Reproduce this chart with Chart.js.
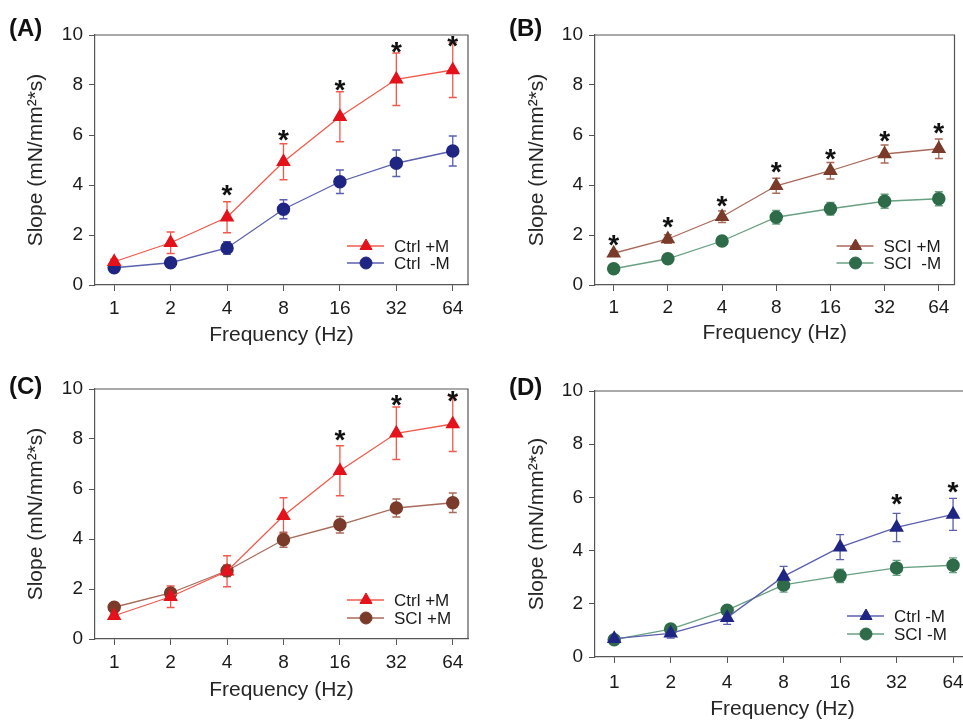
<!DOCTYPE html>
<html><head><meta charset="utf-8">
<script src="https://cdn.jsdelivr.net/npm/chart.js@4.4.1/dist/chart.umd.min.js"></script>
<style>
html,body{margin:0;padding:0;background:#fff;overflow:hidden;width:963px;height:722px;position:relative;}
canvas{position:absolute;}
.lbl{position:absolute;font:bold 24px "Liberation Sans",Arial,sans-serif;line-height:24px;color:#111;}
</style></head><body>
<canvas id="cA" width="480" height="360" style="left:0;top:0"></canvas>
<canvas id="cB" width="483" height="360" style="left:480px;top:0"></canvas>
<canvas id="cC" width="480" height="362" style="left:0;top:360px"></canvas>
<canvas id="cD" width="500" height="362" style="left:480px;top:360px"></canvas>
<div class="lbl" style="left:9px;top:16px">(A)</div>
<div class="lbl" style="left:509px;top:16px">(B)</div>
<div class="lbl" style="left:9px;top:374px">(C)</div>
<div class="lbl" style="left:509px;top:375px">(D)</div>
<script>
// ---- data ----
const freqLabels = ['1','2','4','8','16','32','64'];
const ctrlPlusM     = [0.93, 1.69, 2.71, 4.93, 6.73, 8.23, 8.60];
const ctrlPlusMErr  = [0.10, 0.43, 0.62, 0.72, 1.00, 1.05, 1.10];
const ctrlMinusM    = [0.69, 0.89, 1.48, 3.03, 4.13, 4.87, 5.36];
const ctrlMinusMErr = [0.10, 0.18, 0.25, 0.38, 0.47, 0.53, 0.60];
const sciPlusM      = [1.27, 1.84, 2.73, 3.97, 4.57, 5.24, 5.45];
const sciPlusMErr   = [0.10, 0.17, 0.23, 0.30, 0.33, 0.36, 0.39];
const sciMinusM     = [0.65, 1.05, 1.76, 2.71, 3.05, 3.35, 3.45];
const sciMinusMErr  = [0.05, 0.07, 0.10, 0.27, 0.25, 0.28, 0.28];
const starsA = [null, null, 3.89, 6.07, 8.07, 9.60, 9.83];
const starsB = [1.90, 2.60, 3.44, 4.80, 5.33, 6.04, 6.36];
const starsC = [null, null, null, null, 8.24, 9.64, 9.80];
const starsD = [null, null, null, null, null, 6.03, 6.47];
const yTicks = [0, 2, 4, 6, 8, 10];

// ---- styles ----
const FONT = '"Liberation Sans", Arial, sans-serif';
const AXIS = '#555555';
const TXT = '#1a1a1a';
const RED = {color:'#e3121b', line:'#f05a4c'};
const NAVY = {color:'#1f2583', line:'#5a5fae'};
const BROWN = {color:'#7a3b2a', line:'#a86a5a'};
const GREEN = {color:'#2e6b48', line:'#68a082'};

const extrasPlugin = {
  id: 'panelExtras',
  beforeDatasetsDraw(chart) {
    const ctx = chart.ctx, xs = chart.scales.x, ys = chart.scales.y;
    ctx.save();
    chart.data.datasets.forEach(ds => {
      ctx.strokeStyle = ds.errColor; ctx.lineWidth = 1.3;
      ds.data.forEach((p, i) => {
        const e = ds.errors[i];
        const x = xs.getPixelForValue(p.x);
        const y1 = ys.getPixelForValue(p.y + e), y2 = ys.getPixelForValue(p.y - e);
        ctx.beginPath();
        ctx.moveTo(x, y1); ctx.lineTo(x, y2);
        ctx.moveTo(x - 4, y1); ctx.lineTo(x + 4, y1);
        ctx.moveTo(x - 4, y2); ctx.lineTo(x + 4, y2);
        ctx.stroke();
      });
    });
    ctx.restore();
  },
  afterDatasetsDraw(chart, args, opts) {
    const ctx = chart.ctx, xs = chart.scales.x, ys = chart.scales.y, ca = chart.chartArea;
    ctx.save();
    // top & right frame
    ctx.strokeStyle = AXIS; ctx.lineWidth = 1.2;
    ctx.beginPath();
    ctx.moveTo(ca.left, ca.top); ctx.lineTo(ca.right, ca.top); ctx.lineTo(ca.right, ca.bottom);
    ctx.stroke();
    // stars
    const fs = 28;
    ctx.fillStyle = '#111';
    ctx.font = 'bold ' + fs + 'px ' + FONT;
    ctx.textAlign = 'center'; ctx.textBaseline = 'alphabetic';
    (opts.stars || []).forEach((v, i) => {
      if (v === null) return;
      ctx.fillText('*', xs.getPixelForValue(i), ys.getPixelForValue(v) + 0.575 * fs);
    });
    // legend
    const lg = opts.legend;
    chart.data.datasets.forEach((ds, k) => {
      const x0 = ca.right - lg.dx, y = ca.bottom - lg.rows[k];
      ctx.strokeStyle = ds.borderColor; ctx.lineWidth = 1.3;
      ctx.beginPath(); ctx.moveTo(x0, y); ctx.lineTo(x0 + 37, y); ctx.stroke();
      ctx.fillStyle = ds.pointBackgroundColor; ctx.strokeStyle = ds.pointBorderColor; ctx.lineWidth = 1;
      Chart.helpers.drawPoint(ctx, {pointStyle: ds.pointStyle, radius: ds.pointRadius, rotation: 0, borderWidth: 1}, x0 + 19, y);
      ctx.fillStyle = TXT;
      ctx.font = '17px ' + FONT;
      ctx.textAlign = 'left'; ctx.textBaseline = 'middle';
      ctx.fillText(lg.texts[k], x0 + 47, y + 1);
    });
    ctx.restore();
  }
};

function makeChart(id, cfg) {
  const H = cfg.H, W = cfg.W;
  return new Chart(document.getElementById(id), {
    type: 'line',
    data: {
      datasets: cfg.series.map(s => ({
        label: s.label,
        data: s.values.map((v, i) => ({x: i, y: v})),
        errors: s.errors,
        errColor: s.pal.line,
        borderColor: s.pal.line,
        backgroundColor: s.pal.color,
        pointBackgroundColor: s.pal.color,
        pointBorderColor: s.pal.color,
        pointStyle: s.style,
        pointRadius: s.style === 'triangle' ? 7 : 6,
        pointBorderWidth: 1.5,
        borderWidth: 1.3,
        tension: 0
      }))
    },
    options: {
      responsive: false, animation: false, events: [],
      layout: {padding: {top: cfg.top, right: W - cfg.right, left: 0, bottom: 0}},
      scales: {
        x: {
          type: 'linear', min: cfg.xmin, max: cfg.xmax,
          afterFit: s => { s.height = H - cfg.bottom; },
          afterBuildTicks: s => { s.ticks = freqLabels.map((_, i) => ({value: i})); },
          ticks: {callback: v => freqLabels[v], padding: cfg.xTickPad, font: {size: 19, family: FONT}, color: TXT, maxRotation: 0, autoSkip: false},
          grid: {drawOnChartArea: false, drawTicks: true, tickLength: 6, color: AXIS, tickColor: AXIS},
          border: {color: AXIS, width: 1.2},
          title: {display: true, text: 'Frequency (Hz)', font: {size: 21, family: FONT}, color: '#262626', padding: {top: 0, bottom: cfg.xTitlePad}}
        },
        y: {
          min: 0, max: 10,
          afterFit: s => { s.width = cfg.left; },
          afterBuildTicks: s => { s.ticks = yTicks.map(v => ({value: v})); },
          ticks: {padding: 6, font: {size: 19, family: FONT}, color: TXT},
          grid: {drawOnChartArea: false, drawTicks: true, tickLength: 6, color: AXIS, tickColor: AXIS},
          border: {color: AXIS, width: 1.2},
          title: {display: true, text: 'Slope (mN/mm²*s)', font: {size: 21, family: FONT}, color: '#262626', padding: {top: cfg.yTitlePad, bottom: 0}}
        }
      },
      plugins: {
        legend: {display: false}, tooltip: {enabled: false},
        panelExtras: {stars: cfg.stars, legend: cfg.legend}
      }
    },
    plugins: [extrasPlugin]
  });
}

makeChart('cA', {
  W: 480, H: 360, left: 95, top: 35, right: 468, bottom: 285,
  xmin: -0.34, xmax: 6.27, xTickPad: 6, xTitlePad: 12, yTitlePad: 24,
  series: [
    {label: 'Ctrl +M', values: ctrlPlusM, errors: ctrlPlusMErr, pal: RED, style: 'triangle'},
    {label: 'Ctrl  -M', values: ctrlMinusM, errors: ctrlMinusMErr, pal: NAVY, style: 'circle'}
  ],
  stars: starsA,
  legend: {dx: 121, rows: [39, 22], texts: ['Ctrl +M', 'Ctrl  -M']}
});
makeChart('cB', {
  W: 483, H: 360, left: 115, top: 35, right: 480, bottom: 285,
  xmin: -0.345, xmax: 6.29, xTickPad: 5, xTitlePad: 14, yTitlePad: 45,
  series: [
    {label: 'SCI +M', values: sciPlusM, errors: sciPlusMErr, pal: BROWN, style: 'triangle'},
    {label: 'SCI  -M', values: sciMinusM, errors: sciMinusMErr, pal: GREEN, style: 'circle'}
  ],
  stars: starsB,
  legend: {dx: 118, rows: [39, 22], texts: ['SCI +M', 'SCI  -M']}
});
makeChart('cC', {
  W: 480, H: 362, left: 95, top: 29, right: 468, bottom: 279,
  xmin: -0.34, xmax: 6.27, xTickPad: 6, xTitlePad: 19, yTitlePad: 24,
  series: [
    {label: 'Ctrl +M', values: ctrlPlusM, errors: ctrlPlusMErr, pal: RED, style: 'triangle'},
    {label: 'SCI +M', values: sciPlusM, errors: sciPlusMErr, pal: BROWN, style: 'circle'}
  ],
  stars: starsC,
  legend: {dx: 121, rows: [39, 21], texts: ['Ctrl +M', 'SCI +M']}
});
makeChart('cD', {
  W: 500, H: 362, left: 115, top: 31, right: 490, bottom: 297,
  xmin: -0.34, xmax: 6.3, xTickPad: 8, xTitlePad: 0, yTitlePad: 45,
  series: [
    {label: 'Ctrl -M', values: ctrlMinusM, errors: ctrlMinusMErr, pal: NAVY, style: 'triangle'},
    {label: 'SCI -M', values: sciMinusM, errors: sciMinusMErr, pal: GREEN, style: 'circle'}
  ],
  stars: starsD,
  legend: {dx: 123, rows: [41, 23], texts: ['Ctrl -M', 'SCI -M']}
});
</script>
</body></html>
